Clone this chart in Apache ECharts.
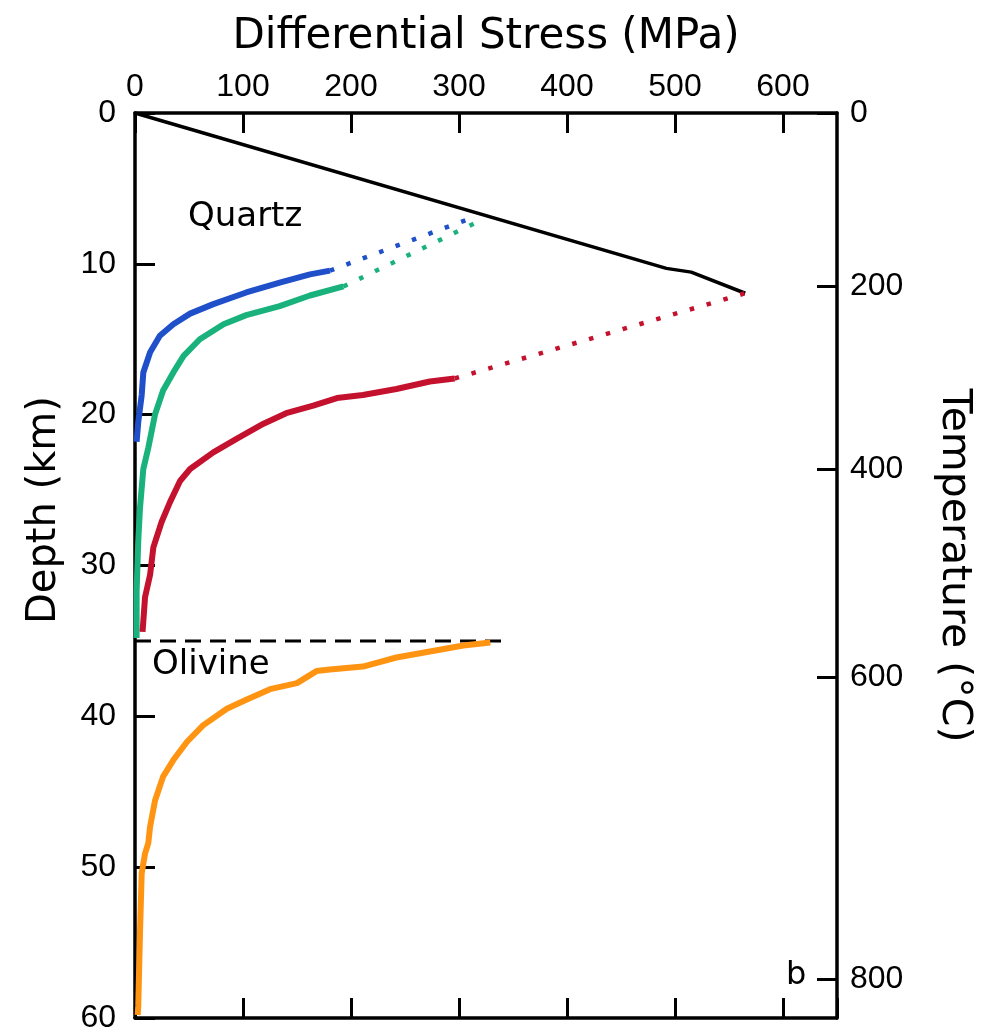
<!DOCTYPE html>
<html>
<head>
<meta charset="utf-8">
<script src="https://cdn.jsdelivr.net/npm/echarts@6/dist/echarts.min.js"></script>
<style>
  html, body { margin: 0; padding: 0; background: #fff; }
  #chart { width: 987px; height: 1034px; }
</style>
</head>
<body>
<div id="chart"></div>
<script>
// frictional (brittle) envelope, MPa vs km
const brittleStress = [0, 492, 515, 565];
const brittleDepth = [0, 10.3, 10.55, 11.95];

// quartz flow laws (solid part + dotted extension to the envelope)
const blueStress = [180.5, 162, 134, 103, 72.5, 51, 35.5, 23, 14, 7.7, 6.2, 3, 1.5];
const blueDepth = [10.45, 10.7, 11.25, 11.9, 12.67, 13.3, 14.0, 14.77, 15.86, 17.2, 18.7, 20.5, 21.8];
const blueDotStress = [180.5, 312];
const blueDotDepth = [10.45, 6.95];

const greenStress = [193, 162, 134, 103, 82, 60, 45, 35.5, 26, 18.5, 12.3, 7.7, 4.6, 3, 1.5, 1.5];
const greenDepth = [11.5, 12.1, 12.8, 13.4, 14.0, 15.0, 16.1, 17.2, 18.4, 20.0, 22.2, 23.6, 26.2, 28.4, 31.7, 34.8];
const greenDotStress = [193, 322];
const greenDotDepth = [11.5, 7.05];

const redStress = [296, 273, 242, 211, 187, 165, 140, 119, 94, 72.5, 51, 41.7, 32.4, 24.7, 17, 14, 9.3, 7.7, 7];
const redDepth = [17.6, 17.8, 18.3, 18.7, 18.9, 19.4, 19.9, 20.6, 21.6, 22.5, 23.6, 24.4, 25.8, 27.1, 28.8, 30.6, 32.1, 33.7, 34.4];
const redDotStress = [296, 565];
const redDotDepth = [17.6, 11.95];

// olivine
const orangeStress = [329, 304, 273, 242, 211, 180.5, 168, 150, 125, 103, 85, 63, 48, 35.5, 26, 18.5, 14, 12.3, 9.3, 6.2, 4.6, 3, 2.5];
const orangeDepth = [35.1, 35.3, 35.7, 36.1, 36.7, 36.9, 37.0, 37.8, 38.2, 38.9, 39.5, 40.6, 41.7, 42.9, 44.0, 45.6, 47.3, 48.4, 49.1, 50.4, 54.4, 59.2, 59.8];

// crust-mantle boundary
const mohoStress = [0, 347];
const mohoDepth = [35, 35];

// temperature axis (non-linear with depth)
const tempLabels = [0, 200, 400, 600, 800];
const tempDepth = [0, 11.5, 23.6, 37.4, 57.4];

const FONT = 'DejaVu Sans';
const NUMFONT = 'Liberation Sans';

function pairs(xs, ys) {
  return xs.map((x, i) => [x, ys[i]]);
}

function solid(data, color, w) {
  return {
    type: 'line', xAxisIndex: 0, yAxisIndex: 0,
    data: data, showSymbol: false, silent: true,
    lineStyle: { color: color, width: w }
  };
}

function dotted(data, color) {
  return {
    type: 'line', xAxisIndex: 0, yAxisIndex: 0,
    data: data, showSymbol: false, silent: true,
    lineStyle: { color: color, width: 4.5, type: [4.5, 13], cap: 'butt' }
  };
}

const axisLine = { show: true, onZero: false, lineStyle: { color: '#000', width: 3.5 } };
const tick = { show: true, inside: true, length: 20, lineStyle: { color: '#000', width: 3 } };
const label = { color: '#000', fontFamily: NUMFONT, fontSize: 32 };

const chart = echarts.init(document.getElementById('chart'));

chart.setOption({
  animation: false,
  backgroundColor: '#fff',
  grid: { left: 135, top: 113, right: 150, bottom: 12 },
  xAxis: [
    {
      type: 'value', position: 'top', min: 0, max: 650, interval: 100,
      axisLine: axisLine, axisTick: tick,
      axisLabel: Object.assign({ margin: 10, showMaxLabel: false }, label),
      splitLine: { show: false },
      name: 'Differential Stress (MPa)', nameLocation: 'middle', nameGap: 55,
      nameTextStyle: { color: '#000', fontFamily: FONT, fontSize: 42 }
    },
    {
      type: 'value', position: 'bottom', min: 0, max: 650, interval: 100,
      axisLine: axisLine, axisTick: tick,
      axisLabel: { show: false },
      splitLine: { show: false }
    }
  ],
  yAxis: [
    {
      type: 'value', position: 'left', inverse: true, min: 0, max: 60, interval: 10,
      axisLine: axisLine, axisTick: tick,
      axisLabel: Object.assign({ margin: 19 }, label),
      splitLine: { show: false }
    },
    {
      type: 'value', position: 'right', inverse: true, min: 0, max: 60,
      axisLine: axisLine,
      axisTick: Object.assign({ customValues: tempDepth }, tick),
      axisLabel: Object.assign({
        margin: 13,
        customValues: tempDepth,
        formatter: function (v) {
          let best = 0;
          tempDepth.forEach((d, i) => {
            if (Math.abs(d - v) < Math.abs(tempDepth[best] - v)) best = i;
          });
          return String(tempLabels[best]);
        }
      }, label),
      splitLine: { show: false },
      name: 'Temperature (°C)', nameLocation: 'middle', nameRotate: -90, nameGap: 96,
      nameTextStyle: { color: '#000', fontFamily: FONT, fontSize: 41 }
    }
  ],
  graphic: [
    { type: 'text', left: 188, top: 200, style: { text: 'Quartz', fill: '#000', font: '34px "DejaVu Sans"' } },
    { type: 'text', left: 152, top: 648, style: { text: 'Olivine', fill: '#000', font: '34px "DejaVu Sans"' } },
    { type: 'text', left: 786, top: 960, style: { text: 'b', fill: '#000', font: '32px "DejaVu Sans"' } },
    {
      type: 'text', x: 45, y: 510, rotation: Math.PI / 2,
      style: { text: 'Depth (km)', fill: '#000', font: '40px "DejaVu Sans"', align: 'center', verticalAlign: 'middle' }
    }
  ],
  series: [
    solid(pairs(brittleStress, brittleDepth), '#000', 3.5),
    dotted(pairs(blueDotStress, blueDotDepth), '#1f4fc9'),
    dotted(pairs(greenDotStress, greenDotDepth), '#19b27c'),
    dotted(pairs(redDotStress, redDotDepth), '#c4122e'),
    solid(pairs(blueStress, blueDepth), '#1f4fc9', 6),
    solid(pairs(greenStress, greenDepth), '#19b27c', 6),
    solid(pairs(redStress, redDepth), '#c4122e', 6),
    {
      type: 'line', xAxisIndex: 0, yAxisIndex: 0,
      data: pairs(mohoStress, mohoDepth), showSymbol: false, silent: true,
      lineStyle: { color: '#000', width: 3, type: [16, 9] }
    },
    solid(pairs(orangeStress, orangeDepth), '#ff9412', 6)
  ]
});
</script>
</body>
</html>
